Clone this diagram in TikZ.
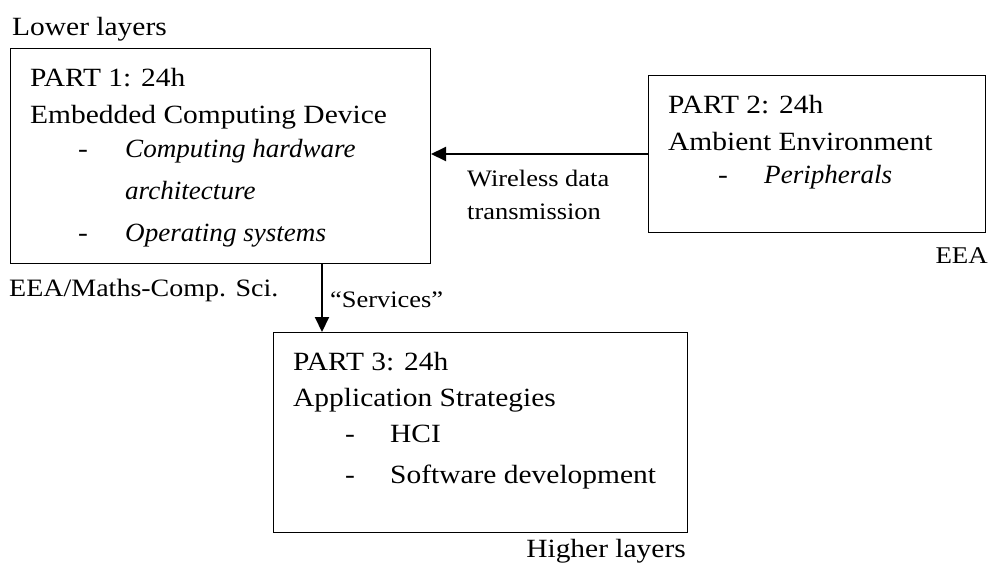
\documentclass[tikz,border=0pt]{standalone}
\usepackage{fontspec}
\setmainfont{Liberation Serif}[FakeStretch=1.12]
\newfontfamily\itfam{Liberation Serif}[FakeStretch=1.03]
\usetikzlibrary{arrows.meta}
\newcommand\fsz{\fontsize{26.3}{30}\selectfont}
\newcommand\fsl{\fontsize{23.6}{28}\selectfont}
\begin{document}
\begin{tikzpicture}[x=1pt,y=-1pt,
  box/.style={draw, line width=1pt, inner sep=0pt, anchor=north west},
  txt/.style={anchor=base west, inner sep=0pt, font=\fsz},
  txtr/.style={anchor=base east, inner sep=0pt, font=\fsz},
  lbl/.style={anchor=base west, inner sep=0pt, font=\fsl},
  itxt/.style={anchor=base west, inner sep=0pt, font=\fsz\itfam\itshape},
  arr/.style={line width=2pt, -{Triangle[length=15pt,width=14pt]}}]
\useasboundingbox (0,0) rectangle (991,563);
% boxes
\node[box, minimum width=420pt, minimum height=215pt] (p1) at (10,48) {};
\node[box, minimum width=337pt, minimum height=157pt] (p2) at (648,75) {};
\node[box, minimum width=414pt, minimum height=200pt] (p3) at (273,332) {};
% part 1
\node[txt] (lower) at (12,35) {Lower layers};
\node[txt] (t1a) at (30,86) {PART 1: 24h};
\node[txt] (t1b) at (30,123) {Embedded Computing Device};
\node[txt] (d1a) at (78,157) {-};
\node[itxt] (t1c) at (125,157) {Computing hardware};
\node[itxt] (t1d) at (125,199) {architecture};
\node[txt] (d1b) at (78,241) {-};
\node[itxt] (t1e) at (125,241) {Operating systems};
\node[txt, font=\fontsize{25}{29}\selectfont] (eeam) at (9,296) {EEA/Maths-Comp. Sci.};
% part 2
\node[txt] (t2a) at (668,113) {PART 2: 24h};
\node[txt] (t2b) at (668,150) {Ambient Environment};
\node[txt] (d2a) at (718,183) {-};
\node[itxt] (t2c) at (764,183) {Peripherals};
\node[txtr, font=\fontsize{24}{28}\selectfont] (eea) at (988,263) {EEA};
\node[lbl] (wl1) at (467,186) {Wireless data};
\node[lbl] (wl2) at (467,219) {transmission};
% part 3
\node[txt] (t3a) at (293,370) {PART 3: 24h};
\node[txt] (t3b) at (293,406) {Application Strategies};
\node[txt] (d3a) at (345,442) {-};
\node[txt] (t3c) at (390,442) {HCI};
\node[txt] (d3b) at (345,483) {-};
\node[txt] (t3d) at (390,483) {Software development};
\node[txtr] (higher) at (686,557) {Higher layers};
\node[lbl] (serv) at (330,307) {“Services”};
% connectors
\coordinate (sv) at (322,0);
\draw[arr] (p2.west) -- (p1.east |- p2.west);
\draw[arr] (p1.south -| sv) -- (p3.north -| sv);
\end{tikzpicture}
\end{document}
